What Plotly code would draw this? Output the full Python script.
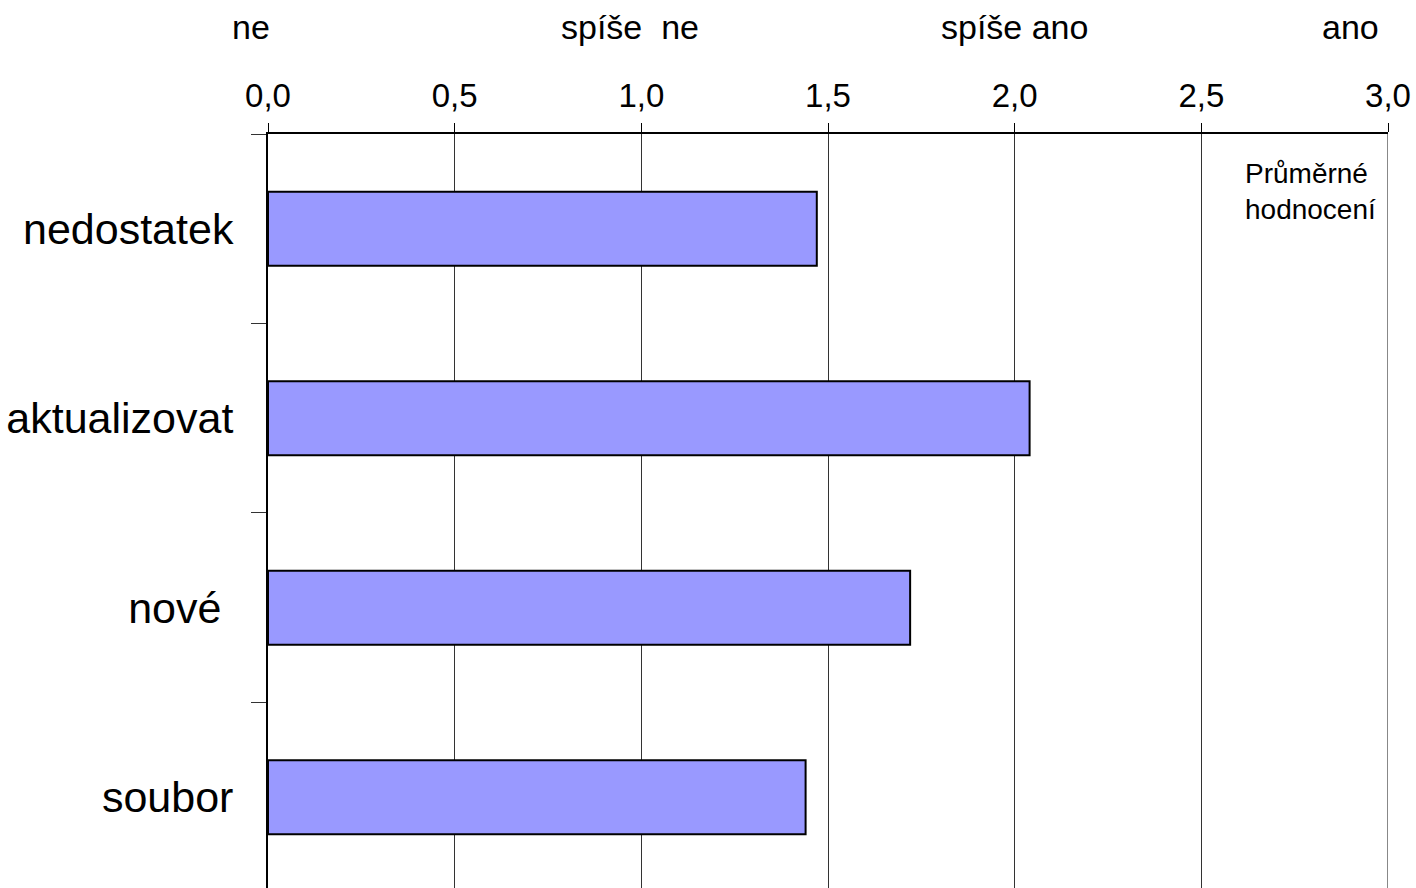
import plotly.graph_objects as go

categories = ["nedostatek", "aktualizovat", "nové\u00a0", "soubor"]
values = [1.47, 2.04, 1.72, 1.44]
scale_labels = ["ne", "spíše\u00a0 ne", "spíše ano", "ano"]
scale_positions = [-0.045, 0.97, 2.0, 2.9]
tick_vals = [0, 0.5, 1.0, 1.5, 2.0, 2.5, 3.0]

FONT = "Liberation Sans, Arial, sans-serif"

W, H = 1416, 888
L, R, T, B = 268, 28, 134, 0
PW, PH = W - L - R, H - T - B

fig = go.Figure()
fig.add_trace(go.Bar(
    y=categories, x=values, orientation="h", width=0.39,
    marker=dict(color="#9999FF", line=dict(color="black", width=2)),
    showlegend=False,
))

fig.update_layout(
    width=W, height=H,
    margin=dict(l=L, r=R, t=T, b=B, pad=0, autoexpand=False),
    paper_bgcolor="white", plot_bgcolor="white",
    separators=", ",
    font=dict(family=FONT, color="black"),
)
fig.update_xaxes(
    side="top", range=[0, 3], tickvals=tick_vals, tickformat=".1f",
    ticks="outside", ticklen=9, tickcolor="black", tickwidth=1,
    showline=True, linecolor="black", linewidth=2,
    showgrid=True, gridcolor="#333333", gridwidth=1,
    tickfont=dict(size=33, family=FONT, color="black"),
    ticklabelstandoff=3, ticklabeloverflow="allow", automargin=False,
    zeroline=False, fixedrange=True,
)
fig.update_yaxes(
    type="category", categoryorder="array", categoryarray=categories,
    range=[3.479, -0.5],
    ticks="outside", tickson="boundaries", ticklen=15, tickcolor="#333333", tickwidth=1,
    showline=True, linecolor="black", linewidth=2,
    showgrid=False,
    tickfont=dict(size=43, family=FONT, color="black"),
    ticklabelstandoff=24, automargin=False,
    fixedrange=True,
)

fig.add_shape(type="line", xref="x", yref="paper", x0=3, x1=3, y0=0, y1=1,
              line=dict(color="#888888", width=2), layer="above")

for lab, pos in zip(scale_labels, scale_positions):
    fig.add_annotation(text=lab, x=pos / 3, xref="paper", xanchor="center",
                       y=1 + (T - 27) / PH, yref="paper", yanchor="middle",
                       showarrow=False, font=dict(size=34, family=FONT, color="black"))

fig.add_annotation(text="Průměrné<br>hodnocení", x=1 - 10 / PW, xref="paper", xanchor="right",
                   y=1 - 22 / PH, yref="paper", yanchor="top", align="left",
                   showarrow=False, font=dict(size=28, family=FONT, color="black"))

fig.write_html(
    "out.html",
    config={"displayModeBar": False},
    post_script="document.body.style.margin='0';document.body.style.overflow='hidden';",
)
